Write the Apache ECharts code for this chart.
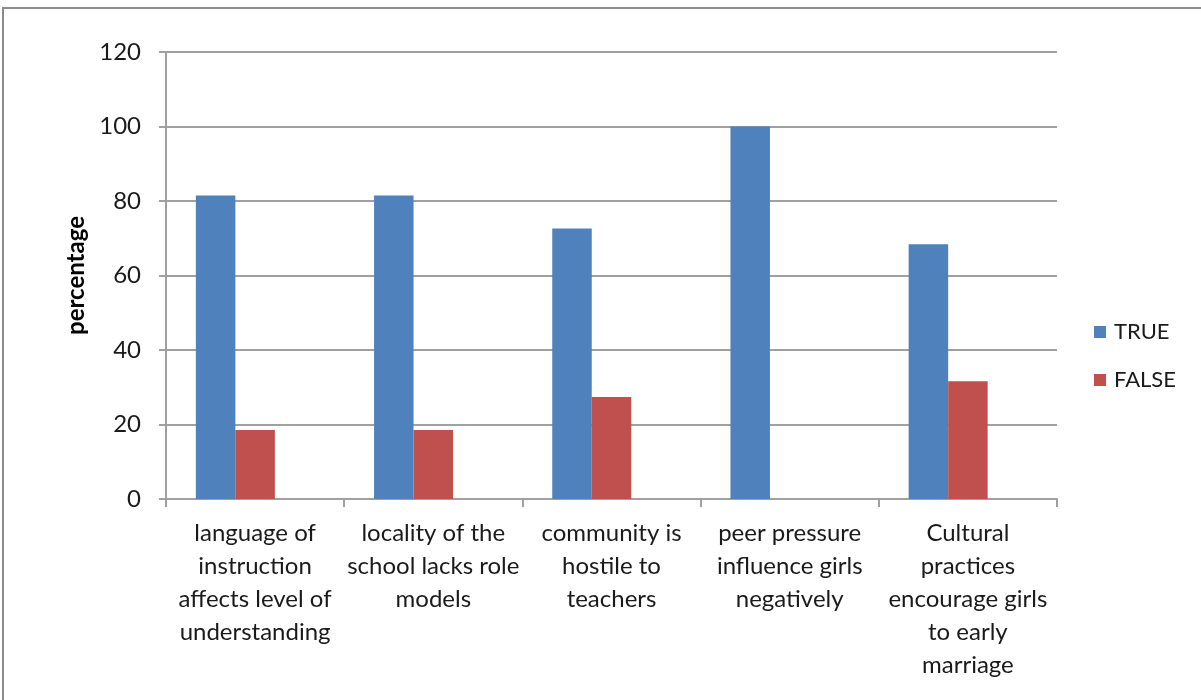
<!DOCTYPE html>
<html>
<head>
<meta charset="utf-8">
<script src="https://cdn.jsdelivr.net/npm/echarts@6/dist/echarts.min.js"></script>
<style>
  html, body { margin: 0; padding: 0; background: #ffffff; }
  #chart { width: 1201px; height: 700px; }
</style>
</head>
<body>
<div id="chart"></div>
<script>
// Survey statements (x categories), wrapped as displayed
const categories = [
  'language of\ninstruction\naffects level of\nunderstanding',
  'locality of the\nschool lacks role\nmodels',
  'community is\nhostile to\nteachers',
  'peer pressure\ninfluence girls\nnegatively',
  'Cultural\npractices\nencourage girls\nto early\nmarriage'
];
// Share of respondents (%)
const trueValues = [81.5, 81.5, 72.6, 100, 68.4];
const falseValues = [18.5, 18.5, 27.4, 0, 31.6];
// Value axis ticks
const yTicks = [0, 20, 40, 60, 80, 100, 120];

const FONT = 'Lato, "Open Sans", sans-serif';
const chart = echarts.init(document.getElementById('chart'));

chart.setOption({
  backgroundColor: '#ffffff',
  animation: false,
  graphic: [{
    type: 'rect',
    shape: { x: 3, y: 8, width: 1210, height: 700 },
    style: { fill: 'none', stroke: '#8c8c8c', lineWidth: 2 }
  }],
  grid: { left: 166, right: 144, top: 52, bottom: 201 },
  legend: {
    orient: 'vertical',
    left: 1089,
    top: 316,
    itemWidth: 12,
    itemHeight: 12,
    itemGap: 26,
    icon: 'rect',
    data: ['TRUE', 'FALSE'],
    textStyle: { fontFamily: FONT, fontSize: 22, color: '#1a1a1a', padding: [0, 0, 0, 3] }
  },
  xAxis: {
    type: 'category',
    data: categories,
    axisLine: { lineStyle: { color: '#a0a0a0', width: 2 } },
    axisTick: { show: true, length: 8, lineStyle: { color: '#a0a0a0', width: 2 } },
    axisLabel: {
      interval: 0,
      margin: 18,
      fontFamily: FONT,
      fontSize: 24,
      lineHeight: 33,
      color: '#1a1a1a',
      align: 'center'
    }
  },
  yAxis: {
    type: 'value',
    min: yTicks[0],
    max: yTicks[yTicks.length - 1],
    interval: 20,
    name: 'percentage',
    nameLocation: 'middle',
    nameRotate: 90,
    nameGap: 69,
    nameTextStyle: { fontFamily: FONT, fontSize: 24, fontWeight: 'bold', color: '#000000' },
    axisLine: { show: true, lineStyle: { color: '#a0a0a0', width: 2 } },
    axisTick: { show: true, length: 7, lineStyle: { color: '#a0a0a0', width: 2 } },
    splitLine: { lineStyle: { color: '#a0a0a0', width: 2 } },
    axisLabel: {
      margin: 25,
      fontFamily: FONT,
      fontSize: 24,
      color: '#1a1a1a'
    }
  },
  series: [
    {
      name: 'TRUE',
      type: 'bar',
      data: trueValues,
      barGap: '0%',
      barCategoryGap: '33.5%',
      itemStyle: { color: '#4F81BD', borderWidth: 0 }
    },
    {
      name: 'FALSE',
      type: 'bar',
      data: falseValues,
      itemStyle: { color: '#C0504D', borderWidth: 0 }
    },
    {
      // empty third slot keeps each pair left of the category centre
      name: 'spare',
      type: 'bar',
      data: categories.map(() => null),
      silent: true
    }
  ]
});
</script>
</body>
</html>
